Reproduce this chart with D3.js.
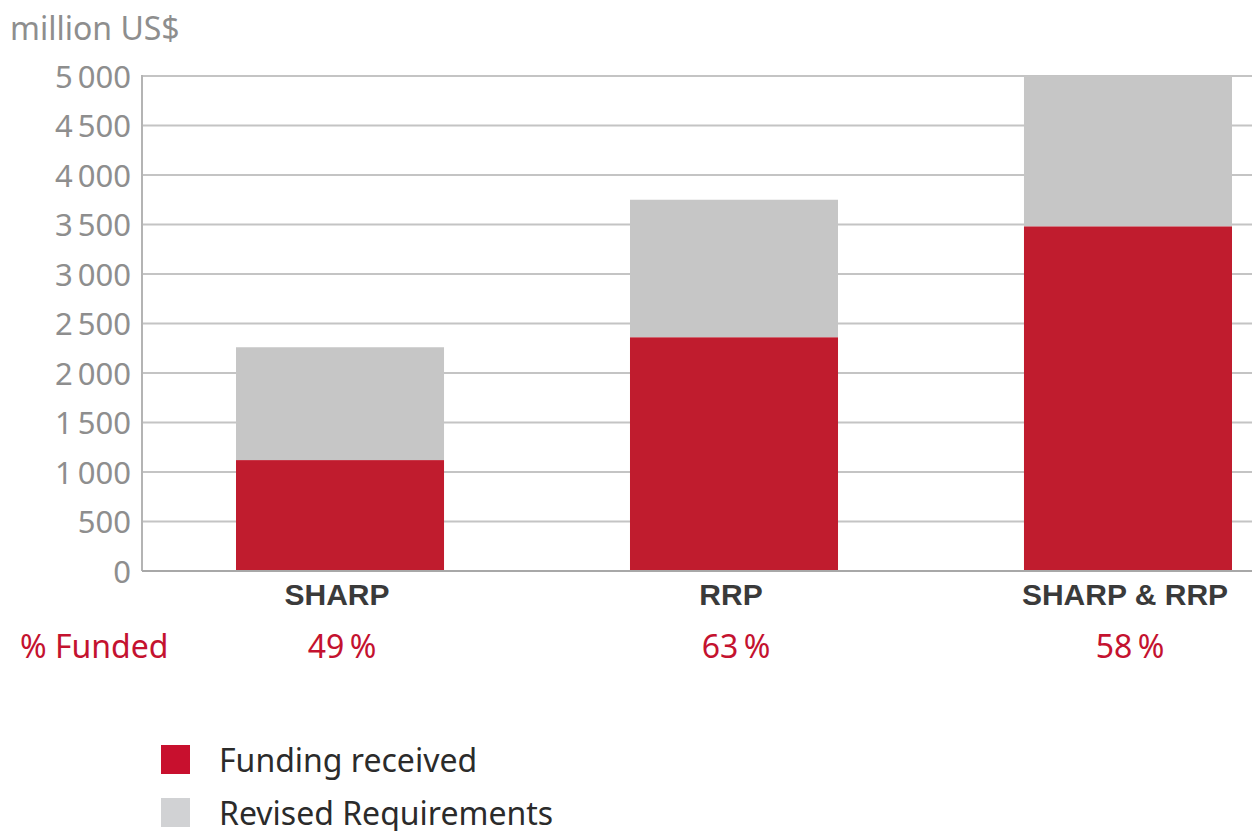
<html>
<head>
<style type="text/css">
  body { margin: 0; background: #fff; }
  svg text { font-family: "Noto Sans", sans-serif; }
</style>
<script src="https://cdn.jsdelivr.net/npm/d3@7"></script>
</head>
<body>
<div id="chart"></div>
<script>

var categories = ["SHARP", "RRP", "SHARP & RRP"];
var funding = [1120, 2360, 3480];
var requirements = [2260, 3750, 6010];
var pctFunded = ["49\u2009%", "63\u2009%", "58\u2009%"];
var yTicks = [0, 500, 1000, 1500, 2000, 2500, 3000, 3500, 4000, 4500, 5000];
var legendLabels = ["Funding received", "Revised Requirements"];

var width = 1252, height = 831;
var plotLeft = 142, plotRight = 1252, plotTop = 76, plotBottom = 571;

var svg = d3.select("#chart").append("svg")
    .attr("width", width)
    .attr("height", height);

var x = d3.scaleBand()
    .domain(categories)
    .range([236, 1232])
    .paddingInner(0.472)
    .paddingOuter(0);

var y = d3.scaleLinear()
    .domain([0, 5000])
    .range([plotBottom, plotTop])
    .clamp(true);

// grid
svg.append("g")
    .selectAll("line")
    .data(yTicks.slice(1))
    .enter().append("line")
    .attr("x1", plotLeft).attr("x2", plotRight)
    .attr("y1", function(d) { return y(d); })
    .attr("y2", function(d) { return y(d); })
    .style("stroke", "#c4c4c4")
    .style("stroke-width", 2);

// bars
var rows = categories.map(function(c, i) {
    return { cat: c, fund: funding[i], req: requirements[i] };
});

svg.append("g").selectAll("rect")
    .data(rows)
    .enter().append("rect")
    .attr("x", function(d) { return x(d.cat); })
    .attr("width", x.bandwidth())
    .attr("y", function(d) { return y(d.req); })
    .attr("height", function(d) { return y(d.fund) - y(d.req); })
    .style("fill", "#c6c6c6");

svg.append("g").selectAll("rect")
    .data(rows)
    .enter().append("rect")
    .attr("x", function(d) { return x(d.cat); })
    .attr("width", x.bandwidth())
    .attr("y", function(d) { return y(d.fund); })
    .attr("height", function(d) { return y(0) - y(d.fund); })
    .style("fill", "#c01c2e");

// axes lines
svg.append("line")
    .attr("x1", plotLeft).attr("x2", plotLeft)
    .attr("y1", plotTop - 1).attr("y2", plotBottom)
    .style("stroke", "#b4b4b4").style("stroke-width", 2);
svg.append("line")
    .attr("x1", plotLeft).attr("x2", plotRight)
    .attr("y1", plotBottom).attr("y2", plotBottom)
    .style("stroke", "#a8a8a8").style("stroke-width", 2);

// y axis labels
var yAxis = d3.axisLeft(y)
    .tickValues(yTicks)
    .tickSize(0)
    .tickPadding(0)
    .tickFormat(function(d) {
        var s = String(d);
        return s.length > 3 ? s.slice(0, s.length - 3) + "\u2009" + s.slice(-3) : s;
    });

var ya = svg.append("g")
    .attr("transform", "translate(131,0)")
    .call(yAxis);
ya.select(".domain").remove();
ya.selectAll("text")
    .style("font-family", "'Noto Sans', sans-serif")
    .style("font-size", "31px")
    .style("fill", "#8e8e8e")
    .attr("dy", "0.36em");

svg.append("text")
    .attr("x", 10).attr("y", 40)
    .text("million US$")
    .style("font-size", "32px")
    .style("fill", "#8e8e8e");

// category labels
svg.append("g").selectAll("text")
    .data(categories)
    .enter().append("text")
    .attr("x", function(d) { return x(d) + x.bandwidth() / 2 - 3; })
    .attr("y", 605)
    .attr("text-anchor", "middle")
    .text(function(d) { return d; })
    .style("font-family", "'Liberation Sans', Arial, sans-serif")
    .style("font-weight", "bold")
    .style("font-size", "30px")
    .style("fill", "#3a3a3a");

// % funded row
svg.append("text")
    .attr("x", 20).attr("y", 658)
    .text("% Funded")
    .style("font-size", "32px")
    .style("fill", "#c4122f");

svg.append("g").selectAll("text")
    .data(categories)
    .enter().append("text")
    .attr("x", function(d) { return x(d) + x.bandwidth() / 2 + 2; })
    .attr("y", 658)
    .attr("text-anchor", "middle")
    .text(function(d, i) { return pctFunded[i]; })
    .style("font-size", "32px")
    .style("fill", "#c4122f");

// legend
var legendColors = ["#c8102e", "#d1d2d4"];
var lg = svg.append("g").selectAll("g")
    .data(legendLabels)
    .enter().append("g")
    .attr("transform", function(d, i) { return "translate(161," + (745 + i * 53) + ")"; });
lg.append("rect")
    .attr("width", 29).attr("height", 29)
    .style("fill", function(d, i) { return legendColors[i]; });
lg.append("text")
    .attr("x", 58).attr("y", 27)
    .text(function(d) { return d; })
    .style("font-size", "32px")
    .style("fill", "#2b2b2b");

</script>
</body>
</html>
